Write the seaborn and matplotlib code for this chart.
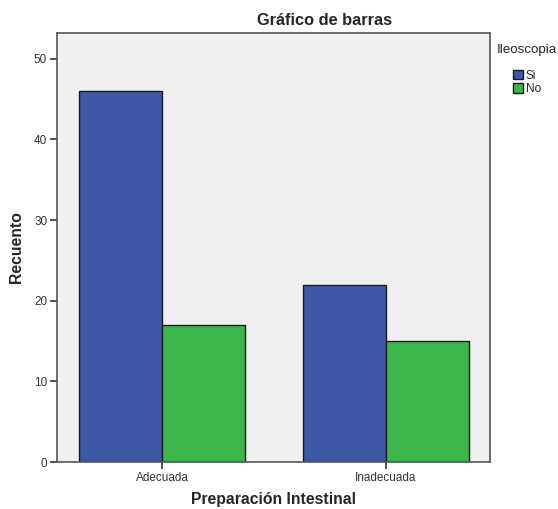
import pandas as pd
import matplotlib
matplotlib.use("Agg")
import matplotlib.pyplot as plt
import seaborn as sns

# counts
categorias = ["Adecuada", "Inadecuada"]
ileoscopia = ["Si", "No"]
si_counts = [46, 22]
no_counts = [17, 15]

df = pd.DataFrame({
    "preparacion": categorias * 2,
    "ileoscopia": ["Si"] * 2 + ["No"] * 2,
    "recuento": si_counts + no_counts,
})

sns.set_style("white")
plt.rcParams["font.family"] = ["Liberation Sans", "DejaVu Sans"]

fig = plt.figure(figsize=(5.58, 5.09), dpi=100)
ax = fig.add_axes([0.102, 0.0923, 0.776, 0.843])
ax.set_facecolor("#f0f0f0")

colores = {"Si": "#3e58a8", "No": "#3bb64b"}
sns.barplot(data=df, x="preparacion", y="recuento", hue="ileoscopia",
            hue_order=ileoscopia, order=categorias, palette=colores,
            width=0.74, gap=0, edgecolor="#1a1a1a", linewidth=1,
            saturation=1, ax=ax)

ax.set_ylim(0, 53.2)
ax.set_xlim(-0.469, 1.464)
ax.set_yticks([0, 10, 20, 30, 40, 50])
ax.tick_params(axis="both", direction="out", length=5, width=1.2,
               labelsize=8.5, colors="#333333", pad=2, left=True, bottom=True)
for s in ax.spines.values():
    s.set_color("#555555")
    s.set_linewidth(1.2)

ax.set_xlabel("Preparación Intestinal", fontsize=11.3, fontweight="bold", labelpad=6)
ax.set_ylabel("Recuento", fontsize=11.3, fontweight="bold", labelpad=7)
fig.text(0.582, 0.96, "Gráfico de barras", ha="center", va="center",
         fontsize=11.8, fontweight="bold")

leg = ax.legend(title="Ileoscopia", loc="upper left", bbox_to_anchor=(1.016, 0.975),
                frameon=False, fontsize=8.5, title_fontsize=9.6,
                handlelength=0.9, handleheight=0.9, handletextpad=0.2,
                labelspacing=0.1, borderaxespad=0, borderpad=0)
leg._legend_box.sep = 10
for h in leg.legend_handles:
    h.set_edgecolor("#1a1a1a")

fig.savefig("out.png", dpi=100)
